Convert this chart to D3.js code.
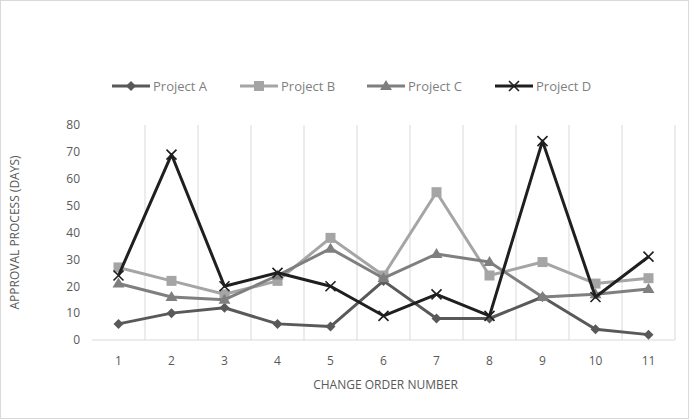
<!DOCTYPE html>
<html>
<head>
<meta charset="utf-8">
<script src="https://cdn.jsdelivr.net/npm/d3@7"></script>
<style>
  body { margin: 0; background: #fff; }
  text { font-family: "Open Sans", "Liberation Sans", sans-serif; }
</style>
</head>
<body>
<svg id="chart" width="689" height="419"></svg>
<script>
const categories = ["1","2","3","4","5","6","7","8","9","10","11"];
const projectA = [6, 10, 12, 6, 5, 22, 8, 8, 16, 4, 2];
const projectB = [27, 22, 17, 22, 38, 24, 55, 24, 29, 21, 23];
const projectC = [21, 16, 15, 24, 34, 23, 32, 29, 16, 17, 19];
const projectD = [24, 69, 20, 25, 20, 9, 17, 9, 74, 16, 31];
const yTicks = [0, 10, 20, 30, 40, 50, 60, 70, 80];
const seriesNames = ["Project A", "Project B", "Project C", "Project D"];

const series = [
  { name: seriesNames[0], values: projectA, color: "#595959", marker: "diamond" },
  { name: seriesNames[1], values: projectB, color: "#a5a5a5", marker: "square" },
  { name: seriesNames[2], values: projectC, color: "#7f7f7f", marker: "triangle" },
  { name: seriesNames[3], values: projectD, color: "#1f1f1f", marker: "x" }
];

const svg = d3.select("#chart");
const W = 689, H = 419;
const margin = { left: 92, right: 14, top: 125, bottom: 79 };

// chart frame
svg.append("rect").attr("x", 0.5).attr("y", 0.5).attr("width", W - 1).attr("height", H - 1)
  .attr("fill", "#fff").attr("stroke", "#d9d9d9");

const x = d3.scaleBand().domain(categories).range([margin.left, W - margin.right]);
const y = d3.scaleLinear().domain([0, 80]).range([H - margin.bottom, margin.top]);

// vertical gridlines between categories
const bounds = categories.map(c => x(c)).concat([x.range()[1]]);
svg.append("g").selectAll("line").data(bounds.slice(1)).join("line")
  .attr("x1", d => d).attr("x2", d => d)
  .attr("y1", y(80)).attr("y2", y(0))
  .attr("stroke", "#d9d9d9").attr("stroke-width", 1);

// x axis baseline
svg.append("line").attr("x1", x.range()[0]).attr("x2", x.range()[1])
  .attr("y1", y(0)).attr("y2", y(0)).attr("stroke", "#d9d9d9").attr("stroke-width", 1);

// y axis labels
const yAxis = d3.axisLeft(y).tickValues(yTicks).tickSize(0).tickPadding(12);
const yg = svg.append("g").attr("transform", `translate(${margin.left},0)`).call(yAxis);
yg.select(".domain").remove();
yg.selectAll("text").attr("fill", "#595959").style("font-size", "12px");

// x axis labels
const xAxis = d3.axisBottom(x).tickSize(0).tickPadding(16);
const xg = svg.append("g").attr("transform", `translate(0,${y(0)})`).call(xAxis);
xg.select(".domain").remove();
xg.selectAll("text").attr("fill", "#595959").style("font-size", "12px");

// axis titles
svg.append("text").attr("x", (x.range()[0] + x.range()[1]) / 2 + 2).attr("y", 389)
  .attr("text-anchor", "middle").attr("fill", "#595959").style("font-size", "12px")
  .text("CHANGE ORDER NUMBER");
svg.append("text").attr("transform", `translate(19,${(y(0) + y(80)) / 2}) rotate(-90)`)
  .attr("text-anchor", "middle").attr("fill", "#595959").style("font-size", "12px")
  .text("APPROVAL PROCESS (DAYS)");

function drawMarker(g, type, color, cx, cy) {
  if (type === "diamond") {
    g.append("path").attr("d", `M${cx},${cy - 5}L${cx + 5},${cy}L${cx},${cy + 5}L${cx - 5},${cy}Z`)
      .attr("fill", color);
  } else if (type === "square") {
    g.append("rect").attr("x", cx - 5).attr("y", cy - 5).attr("width", 10).attr("height", 10)
      .attr("fill", color);
  } else if (type === "triangle") {
    g.append("path").attr("d", `M${cx},${cy - 6}L${cx + 6},${cy + 4}L${cx - 6},${cy + 4}Z`)
      .attr("fill", color);
  } else {
    g.append("path").attr("d", `M${cx - 5},${cy - 5}L${cx + 5},${cy + 5}M${cx + 5},${cy - 5}L${cx - 5},${cy + 5}`)
      .attr("stroke", color).attr("stroke-width", 1.6).attr("fill", "none");
  }
}

const line = d3.line()
  .x((d, i) => x(categories[i]) + x.bandwidth() / 2)
  .y(d => y(d));

series.forEach(s => {
  const g = svg.append("g");
  g.append("path").datum(s.values).attr("d", line)
    .attr("fill", "none").attr("stroke", s.color).attr("stroke-width", 3)
    .attr("stroke-linejoin", "round");
  s.values.forEach((v, i) => drawMarker(g, s.marker, s.color, x(categories[i]) + x.bandwidth() / 2, y(v)));
});

// legend
const legendX = [112, 240, 367, 495];
series.forEach((s, i) => {
  const g = svg.append("g").attr("transform", `translate(${legendX[i]},86)`);
  g.append("line").attr("x1", 0).attr("x2", 38).attr("y1", 0).attr("y2", 0)
    .attr("stroke", s.color).attr("stroke-width", 3);
  drawMarker(g, s.marker, s.color, 19, 0);
  g.append("text").attr("x", 41).attr("y", 4.5).attr("fill", "#7f7f7f")
    .style("font-size", "13px").text(s.name);
});
</script>
</body>
</html>
